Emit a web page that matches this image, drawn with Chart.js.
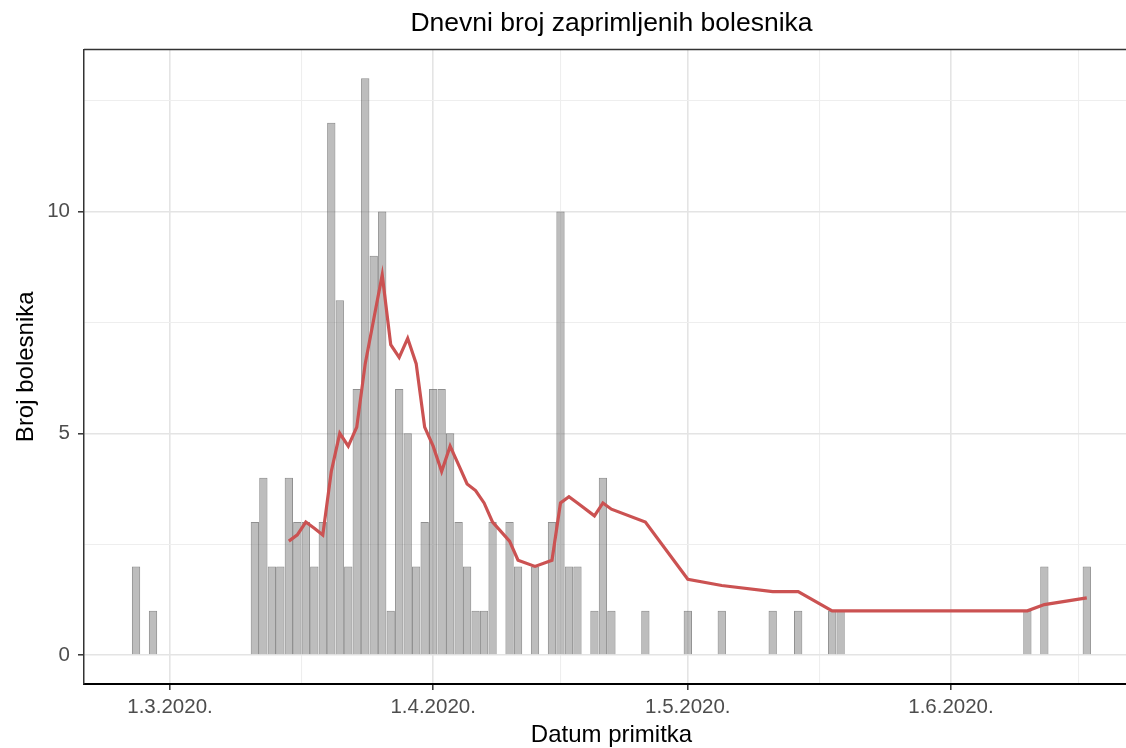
<!DOCTYPE html>
<html>
<head>
<meta charset="utf-8">
<title>Dnevni broj zaprimljenih bolesnika</title>
<script src="https://cdn.jsdelivr.net/npm/chart.js@4.4.1/dist/chart.umd.min.js"></script>
<style>
  html, body { margin: 0; padding: 0; background: #ffffff; overflow: hidden; }
  canvas { display: block; }
</style>
</head>
<body>
<canvas id="chart" width="1139" height="748"></canvas>
<script>
// Datumi primitka i broj bolesnika po danu
const dates = [
    '2020-02-26', '2020-02-28',
    '2020-03-11', '2020-03-12', '2020-03-13', '2020-03-14', '2020-03-15', '2020-03-16',
    '2020-03-17', '2020-03-18', '2020-03-19', '2020-03-20', '2020-03-21', '2020-03-22',
    '2020-03-23', '2020-03-24', '2020-03-25', '2020-03-26', '2020-03-27', '2020-03-28',
    '2020-03-29', '2020-03-30', '2020-03-31',
    '2020-04-01', '2020-04-02', '2020-04-03', '2020-04-04', '2020-04-05', '2020-04-06',
    '2020-04-07', '2020-04-08', '2020-04-10', '2020-04-11', '2020-04-13', '2020-04-15',
    '2020-04-16', '2020-04-17', '2020-04-18', '2020-04-20', '2020-04-21', '2020-04-22',
    '2020-04-26',
    '2020-05-01', '2020-05-05', '2020-05-11', '2020-05-14', '2020-05-18', '2020-05-19',
    '2020-06-10', '2020-06-12', '2020-06-17'
];
const admissions = [
    2, 1,
    3, 4, 2, 2, 4, 3,
    3, 2, 3, 12, 8, 2,
    6, 13, 9, 10, 1, 6,
    5, 2, 3,
    6, 6, 5, 3, 2, 1,
    1, 3, 3, 2, 2, 3,
    10, 2, 2, 1, 4, 1,
    1,
    1, 1, 1, 1, 1, 1,
    1, 2, 2
];
// crvena linija (pomicni prosjek), ocitano sa slike
const rollingAvg = [
    null, null,
    null, null, null, null, 2.57, 2.71,
    3.00, 2.86, 2.71, 4.14, 5.00, 4.71,
    5.14, 6.57, 7.57, 8.57, 7.00, 6.71,
    7.14, 6.57, 5.14,
    4.71, 4.14, 4.71, 4.29, 3.86, 3.71,
    3.43, 3.00, 2.57, 2.14, 2.00, 2.14,
    3.43, 3.57, 3.43, 3.14, 3.43, 3.29,
    3.00,
    1.71, 1.57, 1.43, 1.43, 1.00, 1.00,
    1.00, 1.14, 1.29
];
const xTickDates = ['2020-03-01', '2020-04-01', '2020-05-01', '2020-06-01'];
const xTickLabels = ['1.3.2020.', '1.4.2020.', '1.5.2020.', '1.6.2020.'];
const yTicks = [0, 5, 10];

const FONT = '"Liberation Sans", Arial, sans-serif';
const DAY0 = Date.UTC(2020, 2, 1);
function dayOf(s) {
    const p = s.split('-').map(Number);
    return (Date.UTC(p[0], p[1] - 1, p[2]) - DAY0) / 86400000;
}

const barPoints = dates.map((d, i) => ({ x: dayOf(d), y: admissions[i] }));
const linePoints = dates
    .map((d, i) => ({ x: dayOf(d), y: rollingAvg[i] }))
    .filter(p => p.y !== null);

// glavne i pomocne crte mreze
const xMajor = xTickDates.map(dayOf);
const xMinor = [];
for (let i = 0; i < xMajor.length; i++) {
    const next = i + 1 < xMajor.length ? xMajor[i + 1] : dayOf('2020-07-01');
    xMinor.push((xMajor[i] + next) / 2);
}
const yMinor = [2.5, 7.5, 12.5];

const gridColor = ctx => (ctx.tick && ctx.tick.isMajor ? '#e4e4e4' : '#eeeeee');
const gridWidth = ctx => (ctx.tick && ctx.tick.isMajor ? 1.6 : 1.1);
const tickColor = ctx => (ctx.tick && ctx.tick.isMajor ? '#333333' : 'rgba(0,0,0,0)');

const panelPlugin = {
    id: 'panel',
    afterDraw(chart) {
        const a = chart.chartArea;
        const c = chart.ctx;
        c.save();
        c.strokeStyle = '#333333';
        c.lineWidth = 1.5;
        c.beginPath();
        c.moveTo(a.left, a.top);
        c.lineTo(a.right, a.top);
        c.stroke();
        c.fillStyle = '#000000';
        c.font = '26.5px ' + FONT;
        c.textAlign = 'center';
        c.textBaseline = 'alphabetic';
        c.fillText('Dnevni broj zaprimljenih bolesnika', (a.left + a.right) / 2, 31);
        c.restore();
    }
};

new Chart(document.getElementById('chart').getContext('2d'), {
    data: {
        datasets: [
            {
                type: 'line',
                label: 'Prosjek',
                data: linePoints,
                borderColor: '#cb5252',
                borderWidth: 3.2,
                pointRadius: 0,
                tension: 0,
                fill: false,
                order: 0
            },
            {
                type: 'bar',
                label: 'Broj bolesnika',
                data: barPoints,
                backgroundColor: 'rgba(128,128,128,0.52)',
                borderColor: 'rgba(85,85,85,0.65)',
                borderWidth: 1,
                barPercentage: 0.98,
                categoryPercentage: 1.0,
                order: 1
            }
        ]
    },
    options: {
        responsive: false,
        animation: false,
        layout: { padding: { top: 49.5, right: 0, bottom: 0, left: 0 } },
        plugins: {
            legend: { display: false },
            tooltip: { enabled: false },
            title: { display: false }
        },
        scales: {
            x: {
                type: 'linear',
                offset: false,
                min: -10.13,
                max: 114.15,
                afterBuildTicks(scale) {
                    const t = xMajor.map(v => ({ value: v, isMajor: true }))
                        .concat(xMinor.map(v => ({ value: v, isMajor: false })));
                    scale.ticks = t.filter(o => o.value >= scale.min && o.value <= scale.max)
                        .sort((p, q) => p.value - q.value);
                },
                afterFit(scale) { scale.height = 64; },
                ticks: {
                    autoSkip: false,
                    maxRotation: 0,
                    padding: 5,
                    color: '#4d4d4d',
                    font: { family: FONT, size: 20.5 },
                    callback(value) {
                        const i = xMajor.indexOf(value);
                        return i >= 0 ? xTickLabels[i] : '';
                    }
                },
                grid: {
                    offset: false,
                    color: gridColor,
                    lineWidth: gridWidth,
                    tickColor: tickColor,
                    tickWidth: 1.5,
                    tickLength: 6
                },
                border: { display: true, color: '#000000', width: 2 },
                title: {
                    display: true,
                    text: 'Datum primitka',
                    color: '#000000',
                    font: { family: FONT, size: 24, lineHeight: 1 },
                    padding: { top: 0, bottom: 1 }
                }
            },
            y: {
                type: 'linear',
                min: -0.65,
                max: 13.65,
                afterBuildTicks(scale) {
                    scale.ticks = yTicks.map(v => ({ value: v, isMajor: true }))
                        .concat(yMinor.map(v => ({ value: v, isMajor: false })))
                        .sort((p, q) => p.value - q.value);
                },
                afterFit(scale) { scale.width = 84; },
                ticks: {
                    autoSkip: false,
                    padding: 8,
                    color: '#4d4d4d',
                    font: { family: FONT, size: 20.5 },
                    callback(value) {
                        return yTicks.indexOf(value) >= 0 ? String(value) : '';
                    }
                },
                grid: {
                    color: gridColor,
                    lineWidth: gridWidth,
                    tickColor: tickColor,
                    tickWidth: 1.5,
                    tickLength: 6
                },
                border: { display: true, color: '#333333', width: 1.5 },
                title: {
                    display: true,
                    text: 'Broj bolesnika',
                    color: '#000000',
                    font: { family: FONT, size: 24 },
                    padding: { top: 12, bottom: 0 }
                }
            }
        }
    },
    plugins: [panelPlugin]
});
</script>
</body>
</html>
